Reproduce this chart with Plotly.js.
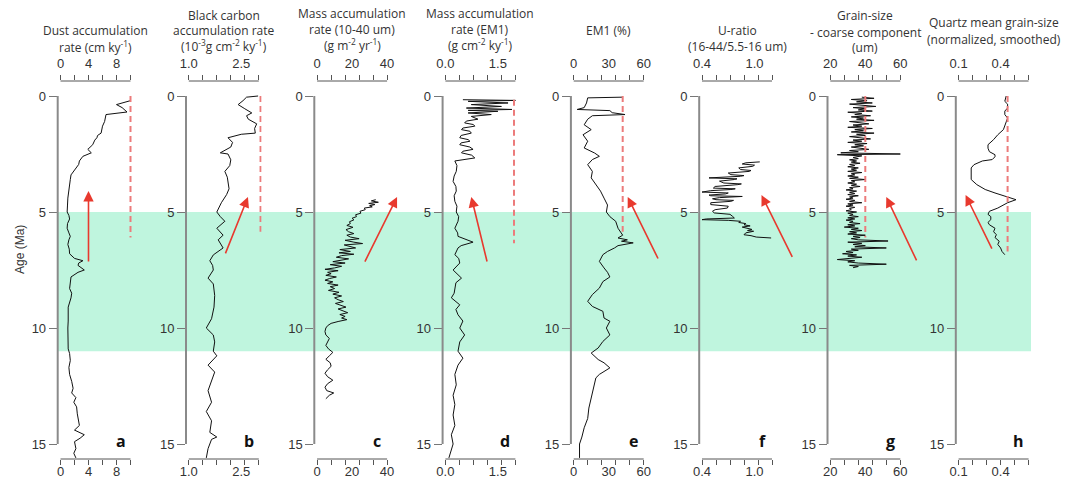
<!DOCTYPE html>
<html><head><meta charset="utf-8">
<script src="https://cdn.plot.ly/plotly-3.0.1.min.js"></script>
<style>body{margin:0;background:#fff}#chart{width:1074px;height:486px}</style>
</head><body><div id="chart"></div>
<script>
// ---------- DATA: [age (Ma), value] ----------
const dustRate = [[0.2,10],[0.3,8.8],[0.37,8],[0.5,8.8],[0.69,9.5],[0.8,6.5],[0.95,6.4],[1.1,6.3],[1.3,6.0],[1.45,5.9],[1.6,5.8],[1.7,5.3],[1.8,5.2],[1.9,4.9],[2.1,4.6],[2.3,3.9],[2.45,4.4],[2.6,3.2],[2.8,2.7],[2.95,2.6],[3.1,2.2],[3.25,1.9],[3.4,1.5],[3.6,1.4],[3.8,1.3],[4.1,1.2],[4.4,1.05],[4.7,1.0],[5.0,0.95],[5.15,1.2],[5.3,1.3],[5.5,1.0],[5.7,0.95],[5.9,1.2],[6.05,1.4],[6.2,1.2],[6.4,1.05],[6.6,1.25],[6.8,1.3],[7.0,2.0],[7.1,3.2],[7.2,2.6],[7.3,2.5],[7.5,3.4],[7.6,2.5],[7.8,1.5],[8.0,1.4],[8.3,1.3],[8.5,1.6],[8.7,1.5],[9.1,1.1],[9.4,1.15],[9.7,1.1],[10.0,1.05],[10.3,1.1],[10.6,1.1],[10.9,1.1],[11.1,1.3],[11.4,1.4],[11.7,1.2],[12.0,1.3],[12.3,1.6],[12.6,1.8],[12.8,1.6],[13.0,2.2],[13.2,1.9],[13.4,2.3],[13.7,2.4],[13.9,2.5],[14.2,2.7],[14.4,2.0],[14.6,3.4],[14.75,2.8],[14.9,2.0],[15.2,2.2],[15.4,1.9],[15.6,2.2]];
const blackCarbon = [[0,2.98],[0.05,2.65],[0.2,2.55],[0.37,2.41],[0.55,2.6],[0.73,2.8],[0.85,2.65],[1.0,2.7],[1.2,2.94],[1.4,2.88],[1.6,2.9],[1.65,2.5],[1.8,2.12],[2.0,2.25],[2.2,2.2],[2.35,2.0],[2.45,1.9],[2.5,2.12],[2.75,2.2],[3.0,2.17],[3.25,2.03],[3.5,2.1],[3.7,2.12],[4.0,2.15],[4.25,2.08],[4.6,1.93],[5.0,1.8],[5.2,1.9],[5.4,2.03],[5.7,1.8],[6.0,1.98],[6.2,1.84],[6.55,1.98],[6.85,1.7],[7.1,1.6],[7.3,1.68],[7.5,1.7],[7.85,1.55],[8.1,1.7],[8.6,1.74],[9.1,1.72],[9.6,1.65],[10.0,1.5],[10.3,1.7],[10.6,1.74],[11.0,1.7],[11.2,1.8],[11.6,1.55],[11.9,1.74],[12.3,1.65],[12.7,1.55],[13.2,1.65],[13.6,1.5],[14.0,1.65],[14.5,1.6],[14.7,1.8],[14.8,1.65],[15.2,1.55],[15.6,1.5]];
const massRate1040 = [[4.47,33.5],[4.52,31],[4.58,35],[4.63,29.5],[4.68,33],[4.73,30],[4.78,31.5],[4.83,27],[4.9,27.5],[4.97,24.5],[5.05,25],[5.12,22],[5.2,22.5],[5.27,20],[5.34,21],[5.42,18.5],[5.5,19],[5.58,17],[5.66,20.5],[5.76,16.5],[5.85,18],[5.93,21],[6.0,17],[6.08,19],[6.15,24],[6.22,16],[6.3,21],[6.36,26],[6.42,15.5],[6.48,18],[6.55,22],[6.62,13],[6.7,19],[6.76,12.5],[6.82,21],[6.88,14],[6.95,11],[7.02,18],[7.08,12],[7.14,9],[7.2,16],[7.27,7.5],[7.34,14],[7.41,10],[7.47,4.5],[7.53,12],[7.6,6],[7.66,8],[7.73,5],[7.8,11],[7.87,7],[7.94,4.5],[8.01,9],[8.08,6],[8.15,12],[8.22,7.5],[8.3,10],[8.38,6.5],[8.46,12.5],[8.54,9],[8.62,14],[8.7,10],[8.78,12],[8.86,15],[8.94,10.5],[9.02,13],[9.1,16.5],[9.18,12],[9.26,15],[9.34,17.5],[9.42,13],[9.5,16],[9.57,14],[9.64,17],[9.72,12],[9.8,8],[9.9,6],[10.0,5],[10.15,4.5],[10.3,5],[10.45,7],[10.6,6],[10.75,5],[10.9,6.5],[11.05,9],[11.2,7],[11.35,5],[11.5,7.5],[11.65,8],[11.8,6],[11.95,4.5],[12.1,6],[12.25,9],[12.4,6],[12.55,4.5],[12.7,5.5],[12.8,9.5],[12.9,7],[13.05,5]];
const massRateEM1 = [[0.16,0.5],[0.19,2.0],[0.23,0.65],[0.3,1.79],[0.37,0.74],[0.45,1.6],[0.52,0.6],[0.58,1.9],[0.62,0.65],[0.66,1.5],[0.73,0.65],[0.8,1.31],[0.88,0.74],[1.0,0.93],[1.08,0.6],[1.16,0.55],[1.23,0.8],[1.3,0.84],[1.38,0.5],[1.45,0.46],[1.52,0.7],[1.6,0.74],[1.7,0.45],[1.8,0.41],[1.88,0.65],[1.95,0.7],[2.02,0.45],[2.1,0.41],[2.2,0.7],[2.3,0.79],[2.38,0.5],[2.45,0.46],[2.55,0.75],[2.67,0.84],[2.8,0.27],[3.0,0.33],[3.25,0.31],[3.45,0.25],[3.68,0.22],[3.9,0.3],[4.1,0.31],[4.3,0.25],[4.54,0.27],[4.75,0.33],[5.0,0.31],[5.2,0.38],[5.4,0.36],[5.7,0.27],[5.9,0.35],[6.05,0.36],[6.3,0.79],[6.45,0.45],[6.55,0.36],[6.84,0.27],[7.0,0.38],[7.2,0.41],[7.5,0.22],[7.7,0.35],[7.85,0.46],[8.05,0.3],[8.28,0.27],[8.5,0.25],[8.7,0.17],[9.0,0.41],[9.2,0.3],[9.43,0.36],[9.7,0.5],[10.0,0.41],[10.3,0.55],[10.6,0.41],[11.0,0.36],[11.3,0.5],[11.6,0.36],[12.0,0.27],[12.45,0.31],[12.9,0.22],[13.3,0.27],[13.75,0.22],[14.2,0.27],[14.6,0.17],[15.0,0.22],[15.6,0.1]];
const em1Pct = [[0.05,42],[0.08,12],[0.3,11],[0.5,9],[0.58,3],[0.63,31],[0.72,33],[0.8,44],[0.85,16],[1.0,12],[1.24,9],[1.45,15],[1.67,8],[1.95,12],[2.24,9],[2.46,18],[2.6,22],[2.74,16],[2.96,12],[3.25,16],[3.53,15],[3.82,19],[4.1,23],[4.4,26],[4.7,29],[5.0,28],[5.2,31],[5.4,36],[5.7,38],[6.0,42],[6.12,38],[6.2,46],[6.26,41],[6.33,51],[6.45,38],[6.55,35],[6.7,29],[6.84,25],[7.13,22],[7.41,26],[7.6,29],[7.8,31],[8.0,25],[8.28,22],[8.56,16],[8.85,12],[9.07,16],[9.28,25],[9.57,26],[9.71,31],[10.0,28],[10.3,31],[10.58,25],[10.86,21],[11.08,15],[11.36,21],[11.5,26],[11.72,31],[12.0,22],[12.15,19],[12.6,17],[13.0,15],[13.45,13],[13.9,12],[14.3,9],[14.7,7],[15.0,5],[15.6,5]];
const uRatio = [[2.84,1.06],[2.88,0.9],[2.93,0.86],[2.98,1.0],[3.03,0.98],[3.1,0.82],[3.17,0.84],[3.21,0.96],[3.25,0.94],[3.32,0.7],[3.39,0.73],[3.43,0.88],[3.46,0.84],[3.5,0.48],[3.53,0.48],[3.57,0.8],[3.6,0.77],[3.67,0.6],[3.75,0.65],[3.79,0.85],[3.82,0.81],[3.9,0.55],[3.97,0.53],[4.0,0.78],[4.03,0.73],[4.08,0.5],[4.14,0.4],[4.18,0.7],[4.22,0.67],[4.27,0.48],[4.3,0.5],[4.33,0.86],[4.38,0.6],[4.43,0.52],[4.47,0.56],[4.5,0.76],[4.54,0.73],[4.6,0.5],[4.68,0.5],[4.75,0.7],[4.83,0.69],[4.9,0.55],[4.97,0.52],[5.04,0.54],[5.1,0.72],[5.19,0.75],[5.26,0.77],[5.3,0.45],[5.33,0.4],[5.36,0.7],[5.4,0.84],[5.45,0.82],[5.5,0.9],[5.55,0.88],[5.6,0.95],[5.65,0.86],[5.69,0.9],[5.75,0.97],[5.8,0.92],[5.83,0.99],[5.9,0.9],[5.98,0.88],[6.02,0.96],[6.05,0.98],[6.08,1.02],[6.12,1.19]];
const grainCoarse = [[0.05,38],[0.1,45],[0.15,32],[0.2,41],[0.25,35],[0.3,44],[0.35,31],[0.4,39],[0.45,46],[0.5,33],[0.55,40],[0.6,36],[0.65,44],[0.7,30],[0.75,38],[0.8,34],[0.85,43],[0.9,32],[0.95,39],[1.0,35],[1.05,45],[1.1,31],[1.15,37],[1.2,42],[1.25,33],[1.3,38],[1.35,30],[1.4,44],[1.45,34],[1.5,39],[1.55,32],[1.6,45],[1.65,35],[1.7,40],[1.75,31],[1.8,37],[1.85,43],[1.9,33],[1.95,38],[2.0,30],[2.05,41],[2.1,34],[2.15,39],[2.2,32],[2.25,36],[2.3,42],[2.35,31],[2.4,36],[2.45,26],[2.5,60],[2.53,24],[2.58,38],[2.65,33],[2.7,36],[2.75,31],[2.8,35],[2.85,32],[2.9,37],[2.95,31],[3.0,34],[3.05,30],[3.1,36],[3.15,32],[3.2,35],[3.25,30],[3.3,38],[3.35,32],[3.4,34],[3.45,30],[3.5,36],[3.55,31],[3.6,40],[3.65,32],[3.7,34],[3.75,30],[3.8,35],[3.85,32],[3.9,37],[3.95,31],[4.0,33],[4.05,29],[4.1,35],[4.15,31],[4.2,34],[4.25,30],[4.3,36],[4.35,31],[4.4,33],[4.45,29],[4.5,34],[4.55,31],[4.6,38],[4.65,30],[4.7,33],[4.75,29],[4.8,34],[4.85,31],[4.9,32],[4.95,29],[5.0,35],[5.05,30],[5.1,33],[5.15,31],[5.2,36],[5.25,30],[5.3,34],[5.35,29],[5.4,33],[5.45,31],[5.5,37],[5.55,30],[5.6,34],[5.65,28],[5.7,36],[5.75,32],[5.8,38],[5.85,31],[5.9,35],[5.95,30],[6.0,40],[6.05,33],[6.1,37],[6.15,32],[6.2,36],[6.25,53],[6.3,30],[6.35,38],[6.4,33],[6.45,40],[6.5,34],[6.55,52],[6.6,32],[6.65,36],[6.7,29],[6.75,33],[6.8,27],[6.85,35],[6.9,30],[6.95,38],[7.0,28],[7.05,24],[7.1,34],[7.15,30],[7.2,36],[7.25,52],[7.3,31],[7.35,36],[7.4,33]];
const quartzGrain = [[0,0.44],[0.23,0.43],[0.35,0.45],[0.52,0.45],[0.65,0.43],[0.8,0.43],[0.95,0.45],[1.1,0.44],[1.3,0.43],[1.45,0.42],[1.67,0.38],[1.88,0.35],[2.1,0.31],[2.25,0.31],[2.4,0.32],[2.53,0.36],[2.62,0.36],[2.74,0.34],[2.8,0.27],[2.96,0.21],[3.1,0.19],[3.25,0.19],[3.45,0.185],[3.6,0.19],[3.82,0.23],[4.03,0.29],[4.18,0.36],[4.33,0.44],[4.47,0.51],[4.6,0.45],[4.72,0.41],[4.83,0.38],[4.97,0.32],[5.1,0.31],[5.2,0.33],[5.33,0.33],[5.45,0.31],[5.55,0.32],[5.7,0.36],[5.85,0.35],[5.98,0.37],[6.1,0.36],[6.26,0.39],[6.4,0.38],[6.55,0.4],[6.7,0.41],[6.84,0.43]];

const series = [dustRate, blackCarbon, massRate1040, massRateEM1, em1Pct, uRatio, grainCoarse, quartzGrain];
const xRanges = [[0,10],[1,3],[0,40],[0,2],[0,60],[0.4,1.2],[20,60],[0.1,0.6]];
const xTicks = [[0,2,4,6,8,10],[1,1.4,1.8,2.2,2.6,3],[0,8,16,24,32,40],[0,0.4,0.8,1.2,1.6,2],[0,12,24,36,48,60],[0.4,0.56,0.72,0.88,1.04,1.2],[20,28,36,44,52,60],[0.1,0.2,0.3,0.4,0.5,0.6]];
const xLabelVals = [[0,4,8],[1,2.5],[0,20,40],[0,1.5],[0,30,60],[0.4,1.0],[20,40,60],[0.1,0.4]];
const xLabelText = [['0','4','8'],['1.0','2.5'],['0','20','40'],['0.0','1.5'],['0','30','60'],['0.4','1.0'],['20','40','60'],['0.1','0.4']];
const ageTicks = [0,5,10,15];
const panelLetters = ['a','b','c','d','e','f','g','h'];
const titles = [
  ['Dust accumulation','rate (cm ky<sup>-1</sup>)'],
  ['Black carbon','accumulation rate','(10<sup>-3</sup>g cm<sup>-2</sup> ky<sup>-1</sup>)'],
  ['Mass accumulation','rate (10-40 um)','(g m<sup>-2</sup> yr<sup>-1</sup>)'],
  ['Mass accumulation','rate (EM1)','(g cm<sup>-2</sup> ky<sup>-1</sup>)'],
  ['EM1 (%)'],
  ['U-ratio','(16-44/5.5-16 um)'],
  ['Grain-size','- coarse component','(um)'],
  ['Quartz mean grain-size','(normalized, smoothed)']
];
// dashed reference lines: [value, age top, age bottom] (null = none)
const refLines = [[10,0,6.1],[3.05,0,5.85],null,[1.96,0.16,6.35],[42,0,5.85],null,[40,0,6.1],[0.45,0,6.7]];
// arrows: [head value, head age, tail value, tail age]
const arrows = [[4.0,4.1,4.0,7.2],[2.69,4.35,2.03,6.85],[45.7,4.35,26.9,7.2],[0.74,4.35,1.2,7.2],[46.3,4.35,72.9,7.07],[1.08,4.27,1.44,7.0],[52,4.35,69.7,7.15],[0.15,4.27,0.343,6.64]];
const shadeAges = [5, 11];
const ageAxisTitle = 'Age (Ma)';

// ---------- LAYOUT ----------
const W = 1074, H = 486;
const yTopPx = 81, yBotPx = 459, age0Px = 96, pxPerMa = 23.2;
const yDom = [1 - yBotPx / H, 1 - yTopPx / H];
const ageRange = [(yBotPx - age0Px) / pxPerMa, (yTopPx - age0Px) / pxPerMa];
const titleY = [[31,47],[15,31,46.5],[13,29,45],[13,29,45],[31],[31,46],[16,32,47],[23,39]];
const tickFont = {family: 'Liberation Sans, Arial, sans-serif', size: 13, color: '#333'};
const titleFont = {family: 'Open Sans, sans-serif', size: 12, color: '#333'};

const xName = n => n === 1 ? 'xaxis' : 'xaxis' + n;
const xRef = n => n === 1 ? 'x' : 'x' + n;
const yName = n => n === 1 ? 'yaxis' : 'yaxis' + n;
const yRef = n => n === 1 ? 'y' : 'y' + n;

const layout = {
  width: W, height: H, margin: {l: 0, r: 0, t: 0, b: 0},
  paper_bgcolor: '#fff', plot_bgcolor: 'rgba(0,0,0,0)', showlegend: false,
  shapes: [], annotations: []
};
const traces = [];

layout.shapes.push({type: 'rect', xref: 'paper', yref: 'y', x0: 57 / W, x1: 1031 / W,
  y0: shadeAges[0], y1: shadeAges[1], fillcolor: '#bff5de', line: {width: 0}, layer: 'below'});

for (let i = 0; i < 8; i++) {
  const d0 = 60.5 + 128.3 * i;
  const dom = [(d0 - 2.8) / W, (d0 + 72.8) / W];
  const r = xRanges[i], span = r[1] - r[0];
  const xr = [r[0] - 0.04 * span, r[1] + 0.04 * span];
  const base = 4 * i + 1, yi = i + 1;
  const common = {range: xr, autorange: false, showline: false, showgrid: false, zeroline: false, fixedrange: true, tickmode: 'array'};
  // tick-mark axes (no labels) and label axes (no visible tick marks)
  layout[xName(base)] = Object.assign({}, common, {domain: dom, anchor: yRef(yi), side: 'bottom',
    tickvals: xTicks[i], showticklabels: false, ticks: 'outside', ticklen: 5, tickcolor: '#555', tickwidth: 1});
  layout[xName(base + 1)] = Object.assign({}, common, {overlaying: xRef(base), anchor: yRef(yi), side: 'bottom',
    tickvals: xLabelVals[i], ticktext: xLabelText[i], ticks: 'outside', ticklen: 0.5, tickcolor: 'rgba(0,0,0,0)', tickfont: tickFont});
  layout[xName(base + 2)] = Object.assign({}, common, {overlaying: xRef(base), anchor: yRef(yi), side: 'top',
    tickvals: xTicks[i], showticklabels: false, ticks: 'outside', ticklen: 5, tickcolor: '#555', tickwidth: 1});
  layout[xName(base + 3)] = Object.assign({}, common, {overlaying: xRef(base), anchor: yRef(yi), side: 'top',
    tickvals: xLabelVals[i], ticktext: xLabelText[i], ticks: 'outside', ticklen: 7, tickcolor: 'rgba(0,0,0,0)', tickfont: tickFont});
  layout[yName(yi)] = {domain: yDom, range: ageRange, autorange: false, anchor: xRef(base), fixedrange: true,
    tickmode: 'array', tickvals: ageTicks, ticks: 'outside', ticklen: 8, tickcolor: '#777', tickwidth: 1,
    showline: false, showgrid: false, zeroline: false, tickfont: tickFont};

  // empty carrier traces so the overlaying axes are drawn
  for (let k = 1; k <= 3; k++) {
    traces.push({type: 'scatter', mode: 'lines', x: [], y: [], xaxis: xRef(base + k), yaxis: yRef(yi), hoverinfo: 'skip'});
  }

  // axis lines (R style: only between first and last tick)
  layout.shapes.push({type: 'line', xref: xRef(base) + ' domain', yref: yRef(yi), x0: 0, x1: 0, y0: ageTicks[0], y1: ageTicks[ageTicks.length - 1],
    line: {color: '#8a8a8a', width: 2}, layer: 'above'});
  layout.shapes.push({type: 'line', xref: xRef(base), yref: yRef(yi) + ' domain', x0: r[0], x1: r[1], y0: 0, y1: 0, line: {color: '#555', width: 1}});
  layout.shapes.push({type: 'line', xref: xRef(base), yref: yRef(yi) + ' domain', x0: r[0], x1: r[1], y0: 1, y1: 1, line: {color: '#555', width: 1}});

  // data curve
  traces.push({type: 'scatter', mode: 'lines', x: series[i].map(p => p[1]), y: series[i].map(p => p[0]),
    xaxis: xRef(base), yaxis: yRef(yi), line: {color: '#111', width: 1}, hoverinfo: 'skip'});
  // dashed reference
  if (refLines[i]) {
    const rl = refLines[i];
    traces.push({type: 'scatter', mode: 'lines', x: [rl[0], rl[0]], y: [rl[1], rl[2]],
      xaxis: xRef(base), yaxis: yRef(yi), line: {color: '#ec7b7b', width: 2, dash: '6px,4px'}, hoverinfo: 'skip'});
  }
  // arrow
  const a = arrows[i];
  layout.annotations.push({x: a[0], y: a[1], ax: a[2], ay: a[3], xref: xRef(base), yref: yRef(yi),
    axref: xRef(base), ayref: yRef(yi), text: '', showarrow: true, arrowhead: 2, arrowsize: 1.3,
    arrowwidth: 1.6, arrowcolor: '#e8392e', standoff: 0, startstandoff: 0});
  // titles
  titles[i].forEach((t, k) => {
    layout.annotations.push({xref: 'paper', yref: 'paper', x: (d0 + 35) / W, y: 1 - titleY[i][k] / H,
      xanchor: 'center', yanchor: 'middle', text: t, showarrow: false, font: titleFont});
  });
  // panel letter
  layout.annotations.push({xref: 'paper', yref: 'paper', x: (d0 + 60) / W, y: 1 - 441 / H,
    xanchor: 'center', yanchor: 'middle', text: '<b>' + panelLetters[i] + '</b>', showarrow: false,
    font: {family: 'Open Sans, sans-serif', size: 16, color: '#111'}});
}
layout.annotations.push({xref: 'paper', yref: 'paper', x: 20 / W, y: 1 - 250 / H, textangle: -90,
  xanchor: 'center', yanchor: 'middle', text: ageAxisTitle, showarrow: false,
  font: {family: 'Liberation Sans, Arial, sans-serif', size: 12, color: '#333'}});

Plotly.newPlot('chart', traces, layout, {staticPlot: true, displayModeBar: false});
</script>
</body></html>
